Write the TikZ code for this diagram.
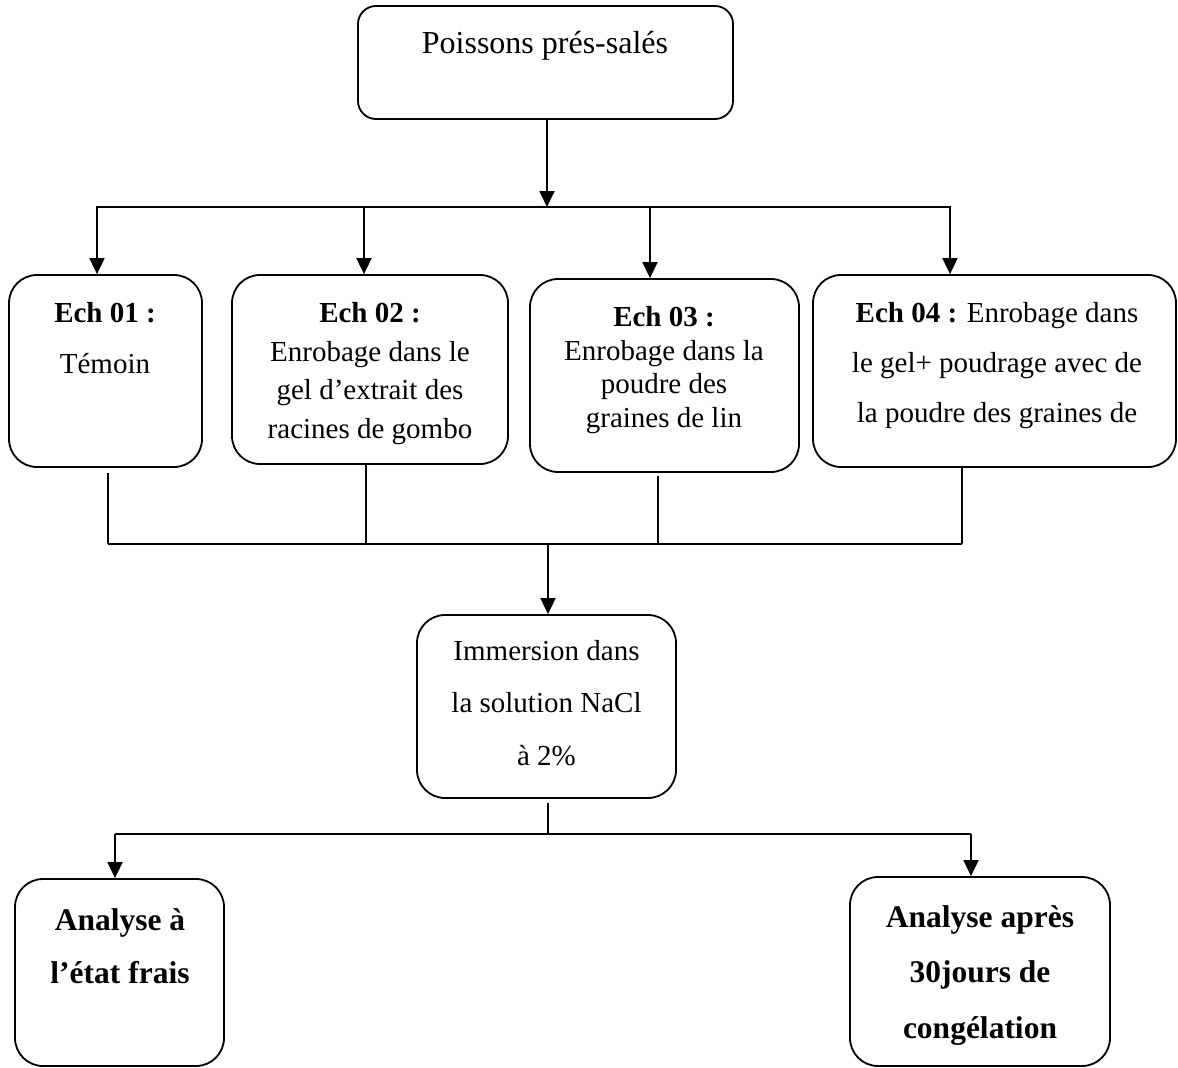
\documentclass[tikz,border=0pt]{standalone}
\usepackage{fontspec}
\setmainfont{Liberation Serif}
\usetikzlibrary{arrows.meta}
\begin{document}
\begin{tikzpicture}[x=1pt,y=-1pt,
  box/.style={draw,line width=1.8pt,rounded corners=28pt,inner sep=0pt},
  ln/.style={line width=1.8pt},
  arr/.style={line width=1.8pt,-{Triangle[length=16pt,width=15pt]}},
  txt/.style={anchor=base,inner sep=0pt,align=center}]
\useasboundingbox (0,0) rectangle (1178,1068);
% boxes
\node[box,rounded corners=18pt,minimum width=375pt,minimum height=113pt] (top) at (545.5,62.5) {};
\node[box,minimum width=193pt,minimum height=192pt] (e1) at (105.5,371) {};
\node[box,minimum width=276pt,minimum height=189pt] (e2) at (370,369.5) {};
\node[box,minimum width=269pt,minimum height=193pt] (e3) at (664.5,375.5) {};
\node[box,minimum width=363pt,minimum height=192pt] (e4) at (994.5,371) {};
\node[box,minimum width=259pt,minimum height=183pt] (imm) at (546.5,706.5) {};
\node[box,minimum width=209pt,minimum height=187pt] (a1) at (119.5,972.5) {};
\node[box,minimum width=260pt,minimum height=189pt] (a2) at (980,971.5) {};
% texts (anchor = baseline of the last line)
\node[txt,font=\fontsize{32}{38}\selectfont] (ttop) at (545,53) {Poissons prés-salés};
\node[txt,font=\fontsize{29}{51}\selectfont] (te1) at (105,373) {\textbf{Ech 01 :}\\Témoin};
\node[txt,font=\fontsize{29}{38.5}\selectfont] (te2) at (370,438) {\textbf{Ech 02 :}\\Enrobage dans le\\gel d’extrait des\\racines de gombo};
\node[txt,font=\fontsize{29}{33.5}\selectfont] (te3) at (664,427) {\textbf{Ech 03 :}\\Enrobage dans la\\poudre des\\graines de lin};
\node[txt,font=\fontsize{29}{50}\selectfont] (te4) at (997,422) {\textbf{Ech 04 :} Enrobage dans\\le gel+ poudrage avec de\\la poudre des graines de};
\node[txt,font=\fontsize{29}{52.5}\selectfont] (timm) at (546.5,765) {Immersion dans\\la solution NaCl\\à 2\%};
\node[txt,font=\bfseries\fontsize{31.5}{53}\selectfont] (ta1) at (120,983) {Analyse à\\l’état frais};
\node[txt,font=\bfseries\fontsize{31.5}{55.5}\selectfont] (ta2) at (980,1038) {Analyse après\\30jours de\\congélation};
% first distribution
\coordinate (b0) at (547,207);
\coordinate (bL) at (96,207);
\coordinate (bR) at (951,207);
\coordinate (h1) at (97,207);
\coordinate (h2) at (364,207);
\coordinate (h3) at (650,207);
\coordinate (h4) at (950,207);
\draw[arr] (top.south -| b0) -- (b0);
\draw[ln] (bL) -- (bR);
\draw[arr] (h1) -- (h1 |- e1.north);
\draw[arr] (h2) -- (h2 |- e2.north);
\draw[arr] (h3) -- (h3 |- e3.north);
\draw[arr] (h4) -- (h4 |- e4.north);
% collection
\coordinate (c1) at (108,544);
\coordinate (c2) at (366,544);
\coordinate (c3) at (658,544);
\coordinate (c4) at (962,544);
\coordinate (c0) at (548,544);
\draw[ln] ([yshift=-5pt]c1 |- e1.south) -- (c1);
\draw[ln] (c2 |- e2.south) -- (c2);
\draw[ln] ([yshift=-3pt]c3 |- e3.south) -- (c3);
\draw[ln] (c4 |- e4.south) -- (c4);
\draw[ln] (c1) -- (c4);
\draw[arr] (c0) -- (c0 |- imm.north);
% final split
\coordinate (d0) at (548,834);
\coordinate (d1) at (115,834);
\coordinate (d2) at (971,834);
\draw[ln] ([yshift=-4pt]d0 |- imm.south) -- (d0);
\draw[ln] (d1) -- (d2);
\draw[arr] (d1) -- (d1 |- a1.north);
\draw[arr] (d2) -- (d2 |- a2.north);
\end{tikzpicture}
\end{document}
